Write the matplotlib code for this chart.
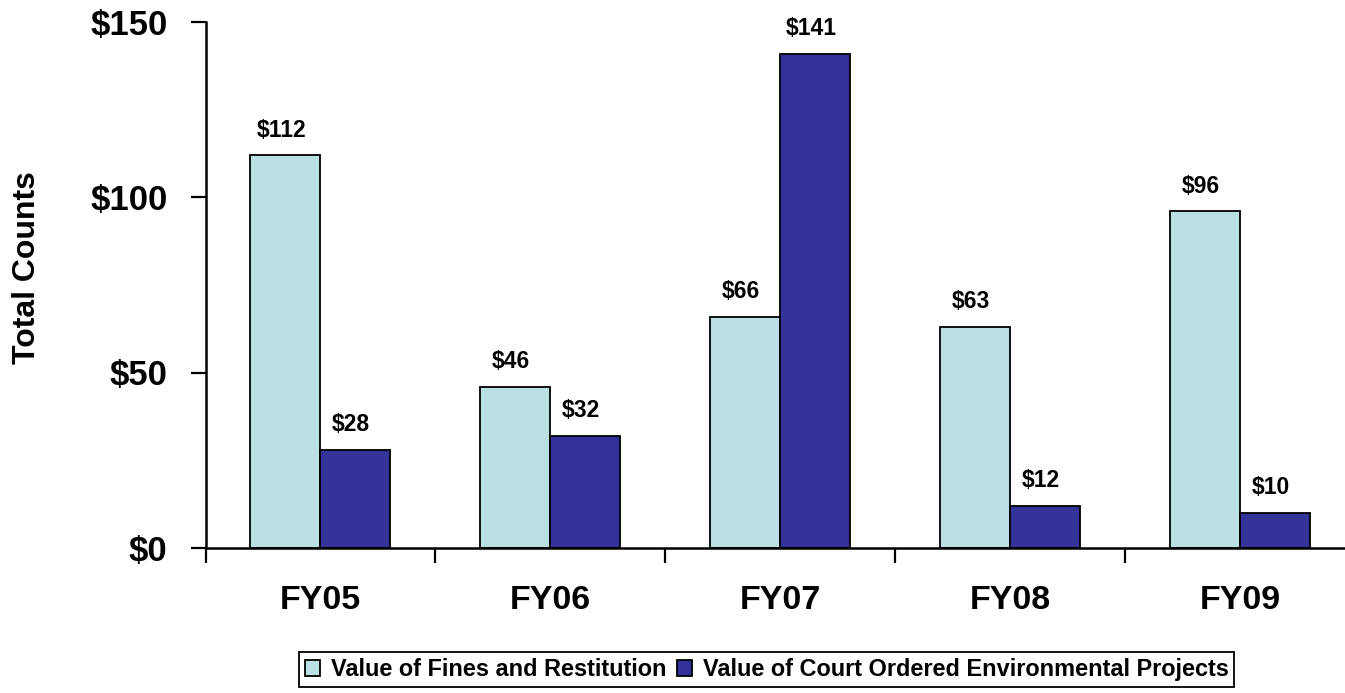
import numpy as np
import matplotlib
matplotlib.use('Agg')
import matplotlib.pyplot as plt

plt.rcParams['font.family'] = ['Liberation Sans', 'DejaVu Sans']

# data (millions of dollars)
years = ['FY05', 'FY06', 'FY07', 'FY08', 'FY09']
fines = [112, 46, 66, 63, 96]
projects = [28, 32, 141, 12, 10]
series_names = ['Value of Fines and Restitution',
                'Value of Court Ordered Environmental Projects']
yticks = [0, 50, 100, 150]

light = '#BBE0E3'
dark = '#333399'

fig = plt.figure(figsize=(13.45, 6.93), dpi=100)
ax = fig.add_axes([205.5 / 1345, 145.5 / 693, 1 - 205.5 / 1345, 525 / 693])

x = np.arange(len(years))
w = 0.3045
b1 = ax.bar(x - w / 2, fines, w, color=light, edgecolor='black', linewidth=1.3,
            label=series_names[0])
b2 = ax.bar(x + w / 2, projects, w, color=dark, edgecolor='black', linewidth=1.3,
            label=series_names[1])

for bars in (b1, b2):
    for r in bars:
        ax.annotate('$%d' % r.get_height(),
                    (r.get_x() + r.get_width() / 2, r.get_height()),
                    xytext=(-3, 10), textcoords='offset points',
                    ha='center', va='bottom', fontsize=16.5, fontweight='bold')

ax.set_xlim(-0.5, 4.457)
ax.set_ylim(0, 150)
ax.set_yticks(yticks)
ax.set_yticklabels(['$%d' % v for v in yticks])
ax.set_xticks(x)
ax.set_xticklabels(years)
ax.set_xticks(np.arange(-0.5, 4.4, 1), minor=True)

ax.tick_params(axis='x', which='major', length=0, pad=27, labelsize=24.5)
ax.tick_params(axis='x', which='minor', length=11, width=1.6, direction='out')
ax.tick_params(axis='y', length=11, width=1.6, direction='out', pad=16.5, labelsize=25)
for lab in ax.get_xticklabels() + ax.get_yticklabels():
    lab.set_fontweight('bold')

for s in ['top', 'right']:
    ax.spines[s].set_visible(False)
for s in ['left', 'bottom']:
    ax.spines[s].set_linewidth(1.8)

ax.set_ylabel('Total Counts', fontsize=23, fontweight='bold')
ax.yaxis.set_label_coords(-0.1435, 0.534)

leg = fig.legend(handles=[b1, b2], loc='lower center', bbox_to_anchor=(0.570, 0.0),
                 ncol=2, prop={'weight': 'bold', 'size': 16.9},
                 frameon=True, fancybox=False, framealpha=1,
                 handlelength=0.65, handleheight=0.65, handletextpad=0.45,
                 columnspacing=0.45, borderpad=0.25, borderaxespad=0.25)
leg.get_frame().set_edgecolor('black')
leg.get_frame().set_linewidth(1.3)

fig.savefig('out.png', dpi=100)
